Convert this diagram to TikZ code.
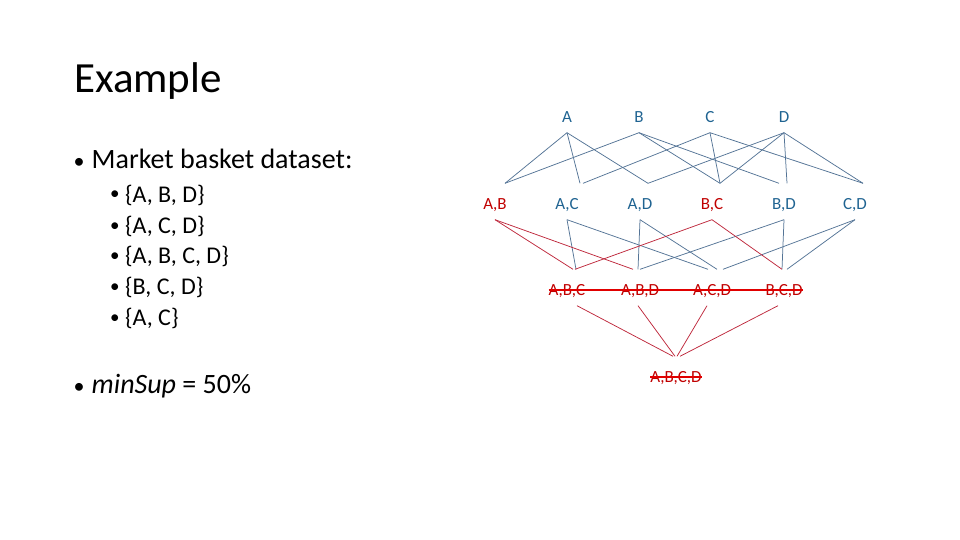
\documentclass[tikz,border=0pt]{standalone}
\usepackage{fontspec}
\setmainfont{Carlito}
\usetikzlibrary{positioning}

\definecolor{itemblue}{RGB}{31,99,145}
\definecolor{edgeblue}{RGB}{84,116,150}
\definecolor{itemred}{RGB}{192,0,0}
\definecolor{edgered}{RGB}{190,40,60}
\definecolor{strikered}{RGB}{225,0,0}

\begin{document}
\begin{tikzpicture}[x=1pt, y=-1pt,
  lbl/.style={anchor=base, font=\fontsize{17}{20}\selectfont, inner xsep=0pt, inner ysep=8pt, text height=18pt, text depth=2pt},
  okset/.style={lbl, text=itemblue},
  badset/.style={lbl, text=itemred},
  bline/.style={draw=edgeblue, line width=0.75pt},
  rline/.style={draw=edgered, line width=0.75pt},
  strike/.style={draw=strikered, line width=1.6pt},
  txt/.style={anchor=base west, inner sep=0pt},
  dot/.style={txt, font=\fontsize{22}{24}\selectfont}]
  \useasboundingbox (0,0) rectangle (960,540);
  % left column: title, dataset and threshold
  \node[txt, font=\fontsize{43}{50}\selectfont] (title) at (74,93) {Example};
  \node[dot] (dot0) at (73.5,168) {\textbullet};
  \node[txt, font=\fontsize{28}{34}\selectfont] (head) at (91.5,168) {Market basket dataset:};
  \foreach \i/\yy/\items in {1/202/{\{A, B, D\}}, 2/233/{\{A, C, D\}}, 3/263.5/{\{A, B, C, D\}}, 4/294.5/{\{B, C, D\}}, 5/325/{\{A, C\}}}{
    \node[dot, font=\fontsize{19}{22}\selectfont] (sub\i) at (110,\yy-2) {\textbullet};
    \node[txt, font=\fontsize{24}{29}\selectfont] (item\i) at (125,\yy) {\items};
  }
  \node[dot] (dot6) at (73.5,393) {\textbullet};
  \node[txt, font=\fontsize{28}{34}\selectfont] (minsup) at (91.5,393) {\textit{minSup} = 50\%};

  % itemset lattice
  \foreach \n/\x in {A/567, B/639, C/710, D/784}
    \node[okset] (\n) at (\x,122.5) {\n};
  \node[badset] (AB) at (495,209.5) {A,B};
  \node[okset]  (AC) at (567,209.5) {A,C};
  \node[okset]  (AD) at (640,209.5) {A,D};
  \node[badset] (BC) at (712,209.5) {B,C};
  \node[okset]  (BD) at (784,209.5) {B,D};
  \node[okset]  (CD) at (855,209.5) {C,D};
  \node[badset] (ABC) at (567,295.5) {A,B,C};
  \node[badset] (ABD) at (640,295.5) {A,B,D};
  \node[badset] (ACD) at (712,295.5) {A,C,D};
  \node[badset] (BCD) at (784,295.5) {B,C,D};
  \node[badset] (ABCD) at (676,382.5) {A,B,C,D};

  % singletons to pairs
  \foreach \u/\v/\s in {A/AB/10, A/AC/13, A/AD/8, B/AB/10, B/BC/8, B/BD/-5, C/AC/16, C/BC/8,
                        C/CD/8, D/AD/8, D/BC/8, D/BD/3, D/CD/8}
    \draw[bline] (\u.south) -- ([xshift=\s pt]\v.north);
  % pairs to triples
  \foreach \u/\v/\s in {AC/ABC/9, AC/ACD/-4, AD/ABD/-2, AD/ACD/5, BD/ABD/0, BD/BCD/-2, CD/ACD/11, CD/BCD/3}
    \draw[bline] (\u.south) -- ([xshift=\s pt]\v.north);
  \foreach \u/\v/\s in {AB/ABC/6, AB/ABD/-7, BC/ABC/8, BC/BCD/-2}
    \draw[rline] (\u.south) -- ([xshift=\s pt]\v.north);
  % triples to the full set
  \foreach \u/\a/\s in {ABC/10/-3, ABD/-2/-1, ACD/-5/1, BCD/-6/4}
    \draw[rline] ([xshift=\a pt]\u.south) -- ([xshift=\s pt]ABCD.north);

  % pruned itemsets
  \draw[strike] ([yshift=5.5pt]ABC.base west) -- ([yshift=5.5pt]BCD.base east);
  \draw[strike] ([yshift=5.5pt]ABCD.base west) -- ([yshift=5.5pt]ABCD.base east);
\end{tikzpicture}
\end{document}
